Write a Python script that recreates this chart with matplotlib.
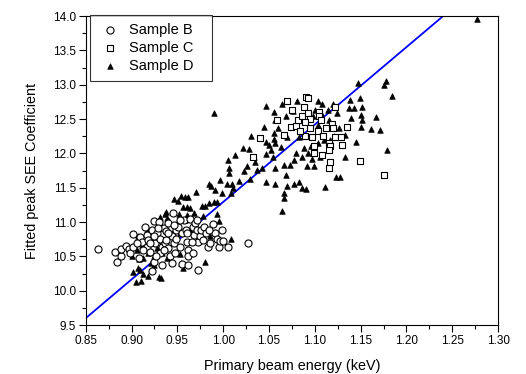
import numpy as np
import matplotlib
matplotlib.use("Agg")
import matplotlib.pyplot as plt
from matplotlib.ticker import MultipleLocator, FormatStrFormatter

plt.rcParams['font.family'] = ['Liberation Sans', 'DejaVu Sans']

# Sample B (open circles)
b_x = [0.863, 0.882, 0.884, 0.888, 0.889, 0.894, 0.897, 0.898, 0.902, 0.902,
       0.908, 0.909, 0.911, 0.915, 0.917, 0.918, 0.917, 0.922, 0.924, 0.926,
       0.922, 0.925, 0.928, 0.930, 0.931, 0.933, 0.931, 0.933, 0.935, 0.937,
       0.940, 0.938, 0.940, 0.942, 0.944, 0.945, 0.944, 0.946, 0.949, 0.949,
       0.953, 0.955, 0.955, 0.957, 0.959, 0.960, 0.962, 0.962, 0.962, 0.964,
       0.967, 0.968, 0.967, 0.969, 0.971, 0.973, 0.973, 0.975, 0.976, 0.979,
       0.981, 0.983, 0.986, 0.989, 0.991, 0.993, 0.995, 0.997, 0.999, 1.000,
       1.005, 1.027, 0.906, 0.913, 0.920, 0.927, 0.935, 0.947, 0.938, 0.951,
       0.960, 0.966, 0.978, 0.984, 0.924, 0.929, 0.946, 0.953, 0.971, 0.920,
       0.940]
b_y = [10.61, 10.57, 10.42, 10.51, 10.61, 10.65, 10.60, 10.55, 10.82, 10.64,
       10.47, 10.78, 10.71, 10.93, 10.81, 10.74, 10.64, 10.89, 11.01, 10.69,
       10.29, 10.42, 10.84, 11.00, 10.76, 10.64, 10.55, 10.38, 10.92, 10.70,
       10.99, 10.87, 10.62, 10.50, 10.40, 11.13, 10.79, 10.69, 10.89, 10.76,
       10.64, 10.84, 10.39, 11.03, 10.89, 10.71, 10.59, 10.37, 10.51, 11.04,
       10.93, 10.81, 10.55, 10.99, 10.89, 10.71, 10.30, 10.79, 10.89, 10.93,
       10.84, 10.64, 10.69, 10.97, 10.84, 10.76, 10.63, 10.73, 10.89, 10.72,
       10.64, 10.69, 10.70, 10.59, 10.57, 10.50, 10.59, 10.55, 10.74, 10.93,
       10.84, 10.71, 10.74, 10.89, 10.79, 10.91, 10.96, 11.03, 11.03, 10.69,
       10.84]

# Sample C (open squares)
c_x = [1.090, 1.093, 1.070, 1.075, 1.059, 1.066, 1.040, 1.032, 1.074, 1.079,
       1.082, 1.086, 1.088, 1.093, 1.095, 1.089, 1.095, 1.089, 1.097, 1.103,
       1.099, 1.099, 1.104, 1.105, 1.107, 1.109, 1.108, 1.112, 1.115, 1.116,
       1.115, 1.117, 1.119, 1.122, 1.122, 1.129, 1.130, 1.135, 1.149, 1.175,
       1.120, 1.084, 1.115]
c_y = [12.82, 12.80, 12.76, 12.63, 12.49, 12.27, 12.22, 11.95, 12.38, 12.40,
       12.49, 12.54, 12.67, 12.59, 12.50, 12.45, 12.37, 12.26, 12.24, 12.32,
       12.11, 12.01, 12.61, 12.55, 12.48, 12.26, 11.98, 12.37, 12.15, 12.11,
       11.79, 11.88, 12.43, 12.67, 12.24, 12.24, 12.12, 12.39, 11.89, 11.68,
       12.37, 12.32, 12.05]

# Sample D (filled triangles)
d_x = [1.277, 1.147, 1.178, 1.176, 1.184, 1.149, 1.138, 1.167, 1.151, 1.150,
       1.151, 1.150, 1.161, 1.171, 1.179, 1.145, 1.133, 1.143, 1.137, 1.140,
       1.128, 1.123, 1.111, 1.120, 1.124, 1.126, 1.133, 1.121, 1.116, 1.099,
       1.091, 1.090, 1.086, 1.083, 1.077, 1.070, 1.066, 1.066, 1.064, 1.068,
       1.056, 1.047, 1.056, 1.066, 1.073, 1.077, 1.079, 1.086, 1.088, 1.083,
       1.070, 1.063, 1.056, 1.052, 1.055, 1.060, 1.055, 1.047, 1.047, 1.050,
       1.054, 1.047, 1.055, 1.064, 1.056, 1.068, 1.076, 1.080, 1.103, 1.108,
       1.100, 1.098, 1.103, 1.107, 1.114, 1.115, 1.103, 1.110, 1.096, 1.092,
       1.097, 1.106, 1.044, 1.030, 1.028, 1.034, 1.035, 1.026, 1.023, 1.037,
       1.042, 1.029, 1.017, 1.022, 1.013, 1.005, 1.006, 1.006, 1.010, 1.008,
       1.004, 0.997, 0.991, 0.984, 0.987, 0.990, 0.970, 0.962, 0.954, 0.946,
       0.951, 0.958, 0.977, 0.980, 0.984, 0.990, 0.993, 0.993, 0.995, 1.008,
       0.960, 0.964, 0.956, 0.952, 0.961, 0.968, 0.938, 0.937, 0.939, 0.931,
       0.941, 0.950, 0.958, 0.969, 0.978, 0.980, 0.956, 0.954, 0.932, 0.930,
       0.925, 0.918, 0.912, 0.910, 0.905, 0.907, 0.902, 0.909, 0.900, 0.913,
       0.918, 0.925, 0.928, 0.933, 0.939, 0.946, 0.953, 0.962, 0.906, 0.911,
       0.907, 0.917, 0.922, 0.929, 0.938, 0.946, 0.953, 0.971, 0.978, 0.986,
       0.908, 0.921, 0.934, 0.964, 1.011, 0.999]
d_y = [13.96, 13.02, 13.06, 12.99, 12.83, 12.81, 12.78, 12.53, 12.67, 12.56,
       12.48, 12.39, 12.36, 12.34, 12.05, 12.17, 11.95, 12.66, 12.66, 12.52,
       11.66, 11.65, 11.51, 12.72, 12.59, 12.37, 12.27, 12.25, 12.20, 11.82,
       11.82, 11.48, 11.49, 11.59, 11.55, 11.53, 11.42, 11.35, 11.16, 11.68,
       11.55, 11.59, 11.78, 11.83, 11.83, 11.90, 12.00, 11.95, 12.08, 12.24,
       12.24, 12.10, 12.15, 12.05, 12.21, 12.37, 12.29, 12.17, 11.99, 12.12,
       11.95, 12.69, 12.61, 12.72, 12.48, 12.54, 12.62, 12.76, 12.77, 12.72,
       12.63, 12.54, 12.42, 12.59, 12.63, 12.49, 12.15, 12.19, 12.11, 12.00,
       11.92, 11.95, 12.39, 12.25, 12.06, 11.95, 11.87, 11.81, 11.74, 11.76,
       11.78, 11.63, 11.60, 12.08, 11.97, 11.91, 11.78, 11.72, 11.55, 11.43,
       11.56, 11.61, 11.47, 11.56, 11.52, 12.59, 11.44, 11.37, 11.38, 11.34,
       11.30, 11.37, 11.23, 11.24, 11.27, 11.29, 11.29, 11.11, 11.01, 10.75,
       11.22, 11.21, 11.22, 11.12, 11.10, 11.13, 11.15, 11.12, 11.06, 11.08,
       11.01, 10.99, 11.03, 10.97, 11.09, 10.42, 10.33, 10.40, 10.19, 10.20,
       10.37, 10.21, 10.24, 10.14, 10.12, 10.33, 10.27, 10.30, 10.51, 10.47,
       10.55, 10.50, 10.62, 10.55, 10.47, 10.55, 10.53, 10.59, 10.59, 10.67,
       10.79, 10.88, 10.82, 10.74, 10.93, 10.89, 10.84, 10.84, 10.89, 10.79,
       10.46, 10.40, 10.91, 10.89, 11.49, 11.42]

# linear fit line end points
fit_x = [0.85, 1.24]
fit_y = [9.60, 14.00]

fig = plt.figure(figsize=(5.26, 3.74), dpi=100)
ax = fig.add_axes([0.163, 0.131, 0.784, 0.826])

ax.plot(fit_x, fit_y, color='#0000ff', lw=1.3, zorder=1)
ax.scatter(d_x, d_y, marker='^', s=16, c='black', edgecolors='black',
           linewidths=0.5, zorder=2, label='Sample D')
ax.scatter(c_x, c_y, marker='s', s=20, facecolors='white', edgecolors='black',
           linewidths=0.8, zorder=3, label='Sample C')
ax.scatter(b_x, b_y, marker='o', s=26, facecolors='white', edgecolors='black',
           linewidths=0.8, zorder=4, label='Sample B')

ax.set_xlim(0.85, 1.30)
ax.set_ylim(9.5, 14.0)
ax.xaxis.set_major_locator(MultipleLocator(0.05))
ax.xaxis.set_minor_locator(MultipleLocator(0.025))
ax.yaxis.set_major_locator(MultipleLocator(0.5))
ax.yaxis.set_minor_locator(MultipleLocator(0.25))
ax.xaxis.set_major_formatter(FormatStrFormatter('%.2f'))
ax.yaxis.set_major_formatter(FormatStrFormatter('%.1f'))
ax.tick_params(which='major', direction='out', length=5, width=0.8, pad=2,
               labelsize=8.5, top=False, right=False)
ax.tick_params(which='minor', direction='out', length=3, width=0.8,
               top=False, right=False)
for sp in ax.spines.values():
    sp.set_linewidth(0.8)

ax.set_xlabel('Primary beam energy (keV)', fontsize=10.4, labelpad=9)
ax.set_ylabel('Fitted peak SEE Coefficient', fontsize=10.4, labelpad=10)

h, l = ax.get_legend_handles_labels()
leg = ax.legend(h[::-1], l[::-1], loc='upper left',
                bbox_to_anchor=(0.01, 0.0, 0.296, 1.005), mode='expand',
                fontsize=10.5, frameon=True, fancybox=False, edgecolor='black',
                borderaxespad=0, handlelength=1.5, handletextpad=0.57,
                labelspacing=0.25, borderpad=0.6)
leg.get_frame().set_linewidth(0.8)

fig.savefig('out.png', dpi=100)
